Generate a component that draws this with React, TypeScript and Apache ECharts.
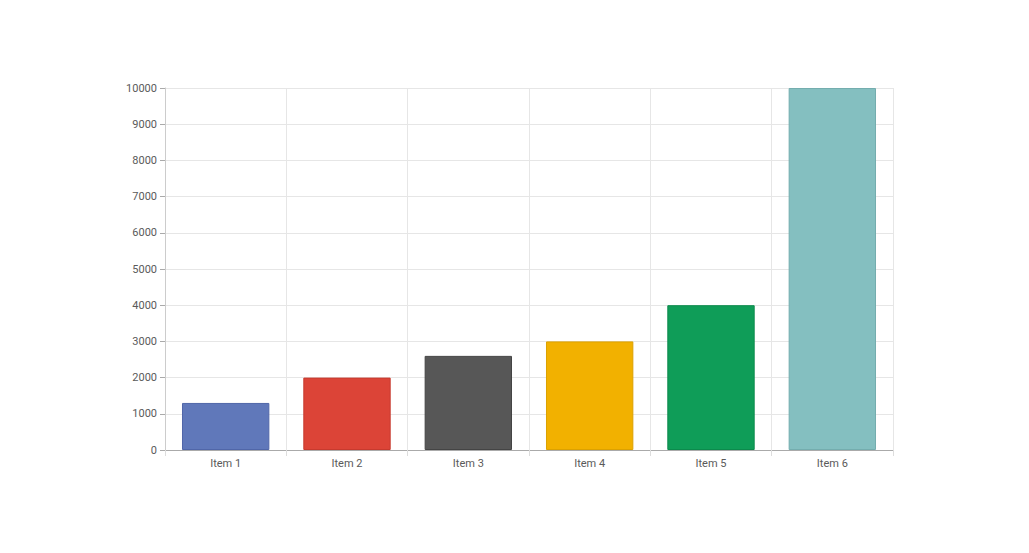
import React, { useEffect, useRef } from "react";
import * as echarts from "echarts";

const categories = ["Item 1", "Item 2", "Item 3", "Item 4", "Item 5", "Item 6"];
const values = [1300, 2000, 2600, 3000, 4000, 10000];
const colors = ["#6078ba", "#dc4437", "#575757", "#f2b100", "#0f9d58", "#84bfc0"];
const borders = ["#5066a8", "#c73a2e", "#444444", "#dca100", "#0b8a4c", "#74adae"];

export default function App() {
  const ref = useRef<HTMLDivElement>(null);
  useEffect(() => {
    if (!ref.current) return;
    const chart = echarts.init(ref.current, null, { renderer: "svg" });
    chart.setOption({
      animation: false,
      backgroundColor: "#ffffff",
      grid: { left: 165, right: 136, top: 88, bottom: 103 },
      textStyle: { fontFamily: "Roboto, Arial, sans-serif" },
      xAxis: {
        type: "category",
        data: categories,
        axisLine: { lineStyle: { color: "#aaaaaa" } },
        axisTick: { show: true, length: 6, lineStyle: { color: "#dddddd" } },
        axisLabel: { color: "#5a5a5a", fontSize: 11, margin: 8 },
        splitLine: { show: true, lineStyle: { color: "#e6e6e6" } },
      },
      yAxis: {
        type: "value",
        min: 0,
        max: 10000,
        interval: 1000,
        axisLine: { show: true, lineStyle: { color: "#cccccc" } },
        axisTick: { show: true, length: 5, lineStyle: { color: "#aaaaaa" } },
        axisLabel: { color: "#5a5a5a", fontSize: 11, margin: 8, formatter: (v: number) => String(v) },
        splitLine: { show: true, lineStyle: { color: "#e6e6e6" } },
      },
      series: [
        {
          type: "bar",
          barWidth: "72%",
          data: values.map((v, i) => ({
            value: v,
            itemStyle: { color: colors[i], borderColor: borders[i], borderWidth: 1 },
          })),
        },
      ],
    });
    return () => chart.dispose();
  }, []);
  return (
    <div
      ref={ref}
      style={{ position: "fixed", left: 0, top: 0, width: 1029, height: 553, background: "#fff" }}
    />
  );
}
